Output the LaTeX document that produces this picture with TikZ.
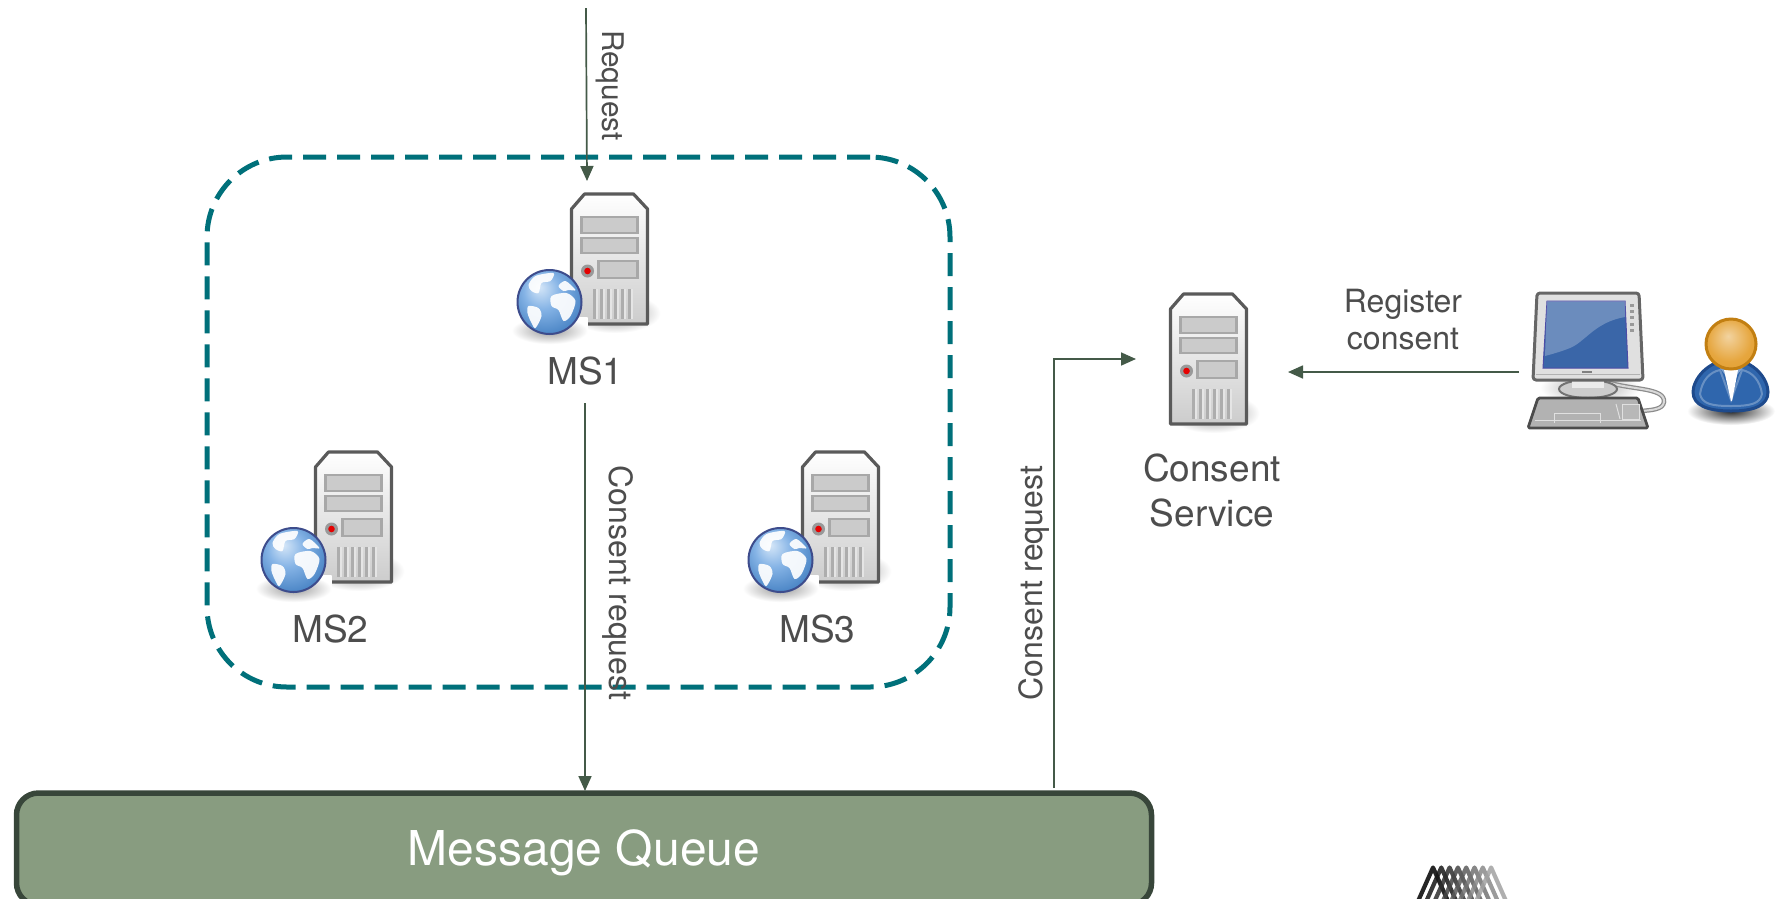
\documentclass[tikz,border=0pt]{standalone}
\usepackage{fontspec}
\setmainfont{TeX Gyre Heros}
\usetikzlibrary{arrows.meta}
\definecolor{teal1}{HTML}{00707A}
\definecolor{arrowc}{HTML}{445A48}
\definecolor{textc}{HTML}{4D4D4D}
\definecolor{queuefill}{HTML}{889C80}
\definecolor{queueline}{HTML}{38463A}
\definecolor{slotf}{HTML}{CBCBCB}
\definecolor{slotl}{HTML}{A8A8A8}
\definecolor{srvline}{HTML}{5A5A5A}
\definecolor{scrblue}{HTML}{3A66A8}
\definecolor{globe1}{HTML}{D6E7F8}
\definecolor{globe2}{HTML}{86B4E6}
\definecolor{globe3}{HTML}{4480C2}
\definecolor{globe4}{HTML}{2E62A2}
\definecolor{globeln}{HTML}{3D4C8C}
\definecolor{head1}{HTML}{F2D3A0}
\definecolor{head2}{HTML}{E6A63E}
\definecolor{head3}{HTML}{DD9726}
\definecolor{headln}{HTML}{C27F12}
\definecolor{bodyf}{HTML}{2F66AD}
\definecolor{bodyl}{HTML}{1E4A8C}
\definecolor{collar}{HTML}{7FA3CF}
\pgfdeclareradialshading{globeshade}{\pgfpoint{-8bp}{12bp}}{color(0bp)=(globe1); color(14bp)=(globe2); color(32bp)=(globe3); color(50bp)=(globe4)}
\pgfdeclareradialshading{headshade}{\pgfpoint{-3bp}{8bp}}{color(0bp)=(head1); color(22bp)=(head2); color(50bp)=(head3)}
\tikzset{
  x=1pt,y=-1pt,
  conn/.style={draw=arrowc,line width=1.7pt,-{Triangle[length=15pt,width=13pt]}},
  lab/.style={text=textc,font=\fontsize{37}{45}\selectfont,align=center,inner sep=0pt},
  edgelab/.style={text=textc,font=\fontsize{32}{37}\selectfont,align=center,inner sep=0pt},
  serverpic/.pic={
    \shade[inner color=black!45,outer color=white] (-2,100) rectangle (90,140);
    \shade[top color=white,bottom color=black!20,draw=srvline,line width=3.2pt,line join=round]
      (1,16)--(14,1)--(63,1)--(77,16)--(77,131)--(1,131)--cycle;
    \foreach \ya/\yb in {24/40,45/60}{
      \draw[fill=slotf,draw=slotl,line width=2.5pt] (11,\ya) rectangle (67,\yb);}
    \draw[fill=slotf,draw=slotl,line width=2.5pt] (28,68) rectangle (67,85);
    \fill[black!40] (17,78) circle (6.5);
    \fill[red!90!black] (17,78) circle (3.3);
    \foreach \vx in {22,29,36,43,50,57}{
      \fill[black!32] (\vx,96) rectangle +(3,30);
      \fill[white!90!black] (\vx+3,96) rectangle +(2,30);}
  },
  globepic/.pic={
    \shade[inner color=black!40,outer color=white] (-38,15) rectangle (38,42);
    \shade[shading=globeshade,draw=globeln,line width=2pt] (0,0) circle (32);
    \fill[white,opacity=.92] plot[smooth cycle] coordinates {(-21,4)(-11,6)(-8,14)(-14,26)(-18,21)(-22,11)};
    \fill[white,opacity=.92] plot[smooth cycle] coordinates {(-21,-17)(-14,-26)(4,-29)(1,-21)(-8,-19)(-11,-9)(-18,-11)};
    \fill[white,opacity=.92] plot[smooth cycle] coordinates {(2,-6)(17,-9)(26,-1)(21,14)(14,19)(9,8)(2,4)};
    \fill[white,opacity=.92] plot[smooth cycle] coordinates {(9,-16)(16,-21)(26,-12)(19,-12)(14,-11)};
  },
  computerpic/.pic={
    \shade[inner color=black!35,outer color=white] (30,100) rectangle (130,135);
    \draw[black!45,line width=4.5pt,line cap=round] (100,113) .. controls (125,120) and (155,118) .. (154,132) .. controls (153,140) and (140,140) .. (132,141);
    \draw[white!85!black,line width=2pt,line cap=round] (100,113) .. controls (125,120) and (155,118) .. (154,132) .. controls (153,140) and (140,140) .. (132,141);
    \draw[fill=black!20,draw=black!55,line width=2pt] (78,119) ellipse (29 and 9);
    \fill[black!8] (62,108) rectangle (94,118);
    \draw[fill=black!12,draw=black!60,line width=3pt,line join=round,rounded corners=3pt]
      (27,23)--(129,23)--(133,110)--(23,110)--cycle;
    \draw[black!30,line width=1pt] (26,104)--(130,104);
    \fill[scrblue,draw=blue!50!black!70,line width=1pt] (37,31)--(115,31)--(118,98)--(33,98)--cycle;
    \fill[white,opacity=.25] (37,31)--(115,31)--(115,47) .. controls (85,52) and (75,72) .. (60,78) .. controls (50,82) and (42,84) .. (35,86)--cycle;
    \foreach \ly in {34,40,46,53,59}{\fill[black!40] (120,\ly) rectangle +(3.5,2.5);}
    \fill[black!50] (72,101) rectangle +(10,1.5);
    \draw[fill=black!30,draw=black!70,line width=2.8pt,line join=round,rounded corners=1.5pt]
      (28,128)--(128,128)--(138,158)--(18,158)--cycle;
    \draw[black!12,line width=1pt] (25,150)--(131,150);
    \draw[black!12,line width=1pt] (44,153)--(44,143)--(90,143)--(90,153);
    \draw[fill=black!28,draw=black!12,line width=1pt] (112,134) rectangle (129,149);
    \draw[black!12,line width=1pt] (106,134)--(110,149);
  },
  personpic/.pic={
    \shade[inner color=black!85,outer color=white] (221,141) ellipse (44 and 14);
    \draw[fill=bodyf,draw=bodyl,line width=3pt]
      (221,90) .. controls (245,90) and (258,110) .. (258,122) .. controls (258,135) and (245,141) .. (221,141)
      .. controls (197,141) and (183,135) .. (183,122) .. controls (183,110) and (197,90) .. (221,90) -- cycle;
    \draw[white,opacity=.28,line width=2pt] (190,124) .. controls (192,110) and (200,102) .. (210,100) -- (221,130) -- (232,100)
      .. controls (242,102) and (250,110) .. (252,124) .. controls (250,134) and (240,136) .. (221,136) .. controls (202,136) and (192,134) .. (190,124) -- cycle;
    \fill[collar] (207,94)--(216,106)--(221,100)--(226,106)--(236,94)--(221,90)--cycle;
    \fill[white] (214,100)--(228,100)--(222,131)--(221,131)--cycle;
    \shade[shading=headshade,draw=headln,line width=3pt] (221,74) circle (25);
  }
}
\begin{document}
\begin{tikzpicture}
\useasboundingbox (0,0) rectangle (1780,898);
\fill[white] (0,0) rectangle (1780,898);

% dashed group
\node[draw=teal1,line width=5pt,dash pattern=on 23pt off 11pt,rounded corners=80pt,
      minimum width=743pt,minimum height=530pt,inner sep=0pt] (group) at (578.5,422) {};

% servers
\pic (srvone) at (570.5,193) {serverpic};
\pic (srvonegl) at (549.5,302) {globepic};
\pic (srvtwo) at (314.5,451) {serverpic};
\pic (srvtwogl) at (293.5,560) {globepic};
\pic (srvthree) at (801.5,451) {serverpic};
\pic (srvthreegl) at (780.5,560) {globepic};
\pic (srvcons) at (1169.5,293) {serverpic};
\pic (comp) at (1510,270) {computerpic};
\pic (pers) at (1510,270) {personpic};

% labels
\node[lab] (ms1) at (585.5,371) {MS1};
\node[lab] (ms2) at (330.5,629) {MS2};
\node[lab] (ms3) at (817.5,629) {MS3};
\node[lab] (cs) at (1212,490.5) {Consent\\Service};

% queue
\node[draw=queueline,fill=queuefill,line width=5.5pt,rounded corners=22pt,minimum width=1135pt,
      minimum height=112pt,inner sep=0pt,text=white,text height=43.5pt,text depth=10pt,
      font=\fontsize{48}{50}\selectfont] (queue) at (584,849) {Message Queue};

% connector ends
\coordinate (reqtop) at (586,8);
\coordinate (ms1in) at (587,181);
\coordinate (ms1out) at (585,403);
\coordinate (qin) at (585,791);
\coordinate (qout) at (1054,788);
\coordinate (csleft) at (1136,359);
\coordinate (pcout) at (1519,372);
\coordinate (csright) at (1288,372);

\draw[conn] (reqtop) -- (ms1in);
\draw[conn] (ms1out) -- (qin);
\draw[conn] (qout) |- (csleft);
\draw[conn] (pcout) -- (csright);

% connector labels
\node[edgelab,font=\fontsize{29.8}{34}\selectfont,rotate=-90] (lreq) at (610.5,85.5) {Request};
\node[edgelab,rotate=-90] (lcr1) at (617.5,583) {Consent request};
\node[edgelab,rotate=90] (lcr2) at (1034.5,583) {Consent request};
\node[edgelab] (lreg) at (1403,320) {Register\\consent};

% logo
\begin{scope}
\clip (1400,850) rectangle (1530,898);
\foreach \i in {0,...,7}{
  \pgfmathsetmacro{\gl}{100-\i*9}
  \draw[black!\gl,opacity=.85,line width=4.2pt,line join=round] ({1433+\i*8.3-18},908)--({1433+\i*8.3},867.5)--({1433+\i*8.3+18},908);
}
\end{scope}
\end{tikzpicture}
\end{document}
